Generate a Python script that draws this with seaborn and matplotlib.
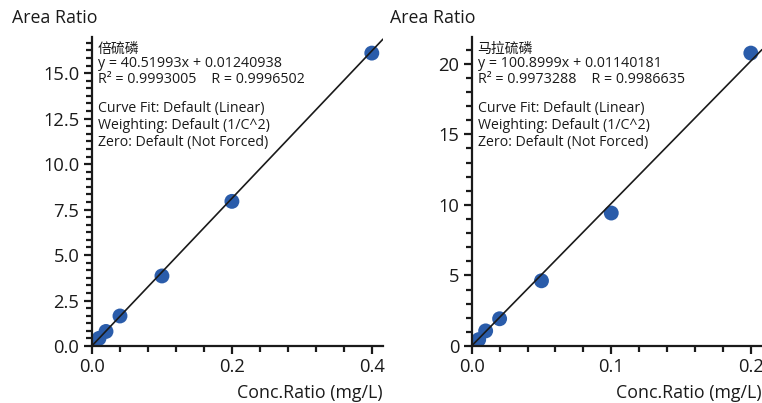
import matplotlib
matplotlib.use("Agg")
import matplotlib.pyplot as plt
from matplotlib.ticker import AutoMinorLocator, MultipleLocator, FormatStrFormatter
import numpy as np
import pandas as pd
import seaborn as sns

# calibration data
conc_left = [0.002, 0.004, 0.01, 0.02, 0.04, 0.1, 0.2, 0.4]
area_left = [0.09, 0.17, 0.42, 0.80, 1.65, 3.85, 7.95, 16.1]
conc_right = [0.001, 0.002, 0.005, 0.01, 0.02, 0.05, 0.1, 0.2]
area_right = [0.10, 0.20, 0.45, 1.07, 1.93, 4.62, 9.42, 20.75]

names = ["倍硫磷", "马拉硫磷"]
slopes = [40.51993, 100.8999]
intercepts = [0.01240938, 0.01140181]
r2_vals = ["0.9993005", "0.9973288"]
r_vals = ["0.9996502", "0.9986635"]
x_major = [0.2, 0.1]
y_major = [2.5, 5]
y_minor_div = [6, 5]

sns.set_style("white")
plt.rcParams["font.family"] = ["Open Sans", "Noto Sans CJK SC", "DejaVu Sans"]

fig = plt.figure(figsize=(7.62, 4.03), dpi=100)
W, H = 762, 403
axes = [
    fig.add_axes([92 / W, 57 / H, 291 / W, 309 / H]),
    fig.add_axes([471.7 / W, 57 / H, 290.3 / W, 309 / H]),
]
blue = "#2a5caa"
ink = "#1a1a1a"

datasets = [(conc_left, area_left), (conc_right, area_right)]
for i, ax in enumerate(axes):
    x, y = datasets[i]
    df = pd.DataFrame({"conc": x, "area": y})
    xmax = max(x) * 1.04
    ymax = max(y) * 1.055

    sns.scatterplot(data=df, x="conc", y="area", ax=ax, color=blue, s=115,
                    edgecolor="none", zorder=2)
    # regression line from the fitted equation
    xs = np.array([0, xmax])
    fit = pd.DataFrame({"conc": xs, "area": slopes[i] * xs + intercepts[i]})
    sns.lineplot(data=fit, x="conc", y="area", ax=ax, color=ink,
                 linewidth=1.2, zorder=3)

    ax.set_xlim(0, xmax)
    ax.set_ylim(0, ymax)
    ax.xaxis.set_major_locator(MultipleLocator(x_major[i]))
    ax.xaxis.set_minor_locator(AutoMinorLocator(5))
    ax.yaxis.set_major_locator(MultipleLocator(y_major[i]))
    ax.yaxis.set_minor_locator(AutoMinorLocator(y_minor_div[i]))
    if i == 0:
        ax.yaxis.set_major_formatter(FormatStrFormatter("%.1f"))
    ax.xaxis.set_major_formatter(FormatStrFormatter("%.1f"))

    for s in ["top", "right"]:
        ax.spines[s].set_visible(False)
    for s in ["left", "bottom"]:
        ax.spines[s].set_color(ink)
        ax.spines[s].set_linewidth(1.6)
    ax.tick_params(which="major", direction="out", length=6, width=1.6,
                   color=ink, labelsize=13.2, labelcolor=ink, pad=3,
                   left=True, bottom=True)
    ax.tick_params(which="minor", direction="out", length=4, width=1.6,
                   color=ink, left=True, bottom=True)
    ax.set_xlabel("")
    ax.set_ylabel("")

    # annotation block
    tx = 6 / 291
    ax.text(tx, 0.961, names[i], transform=ax.transAxes, fontsize=10,
            va="center", ha="left", color=ink,
            family=["Noto Sans CJK SC", "DejaVu Sans"])
    ax.text(tx, 0.913, f"y = {slopes[i]}x + {intercepts[i]}",
            transform=ax.transAxes, fontsize=10.3, va="center", color=ink)
    ax.text(tx, 0.861, f"R² = {r2_vals[i]}    R = {r_vals[i]}",
            transform=ax.transAxes, fontsize=10.3, va="center", color=ink)
    for ty, line in zip([0.770, 0.715, 0.660],
                        ["Curve Fit: Default (Linear)",
                         "Weighting: Default (1/C^2)",
                         "Zero: Default (Not Forced)"]):
        ax.text(tx, ty, line, transform=ax.transAxes, fontsize=10.2,
                va="center", color=ink)

    ax.text(1.0, -0.152, "Conc.Ratio (mg/L)", transform=ax.transAxes,
            fontsize=12.8, ha="right", va="center", color=ink)

fig.text(12 / W, 1 - 18 / H, "Area Ratio", fontsize=12.8, ha="left",
         va="center", color=ink)
fig.text(390 / W, 1 - 18 / H, "Area Ratio", fontsize=12.8, ha="left",
         va="center", color=ink)

fig.savefig("out.png", dpi=100, facecolor="white")
